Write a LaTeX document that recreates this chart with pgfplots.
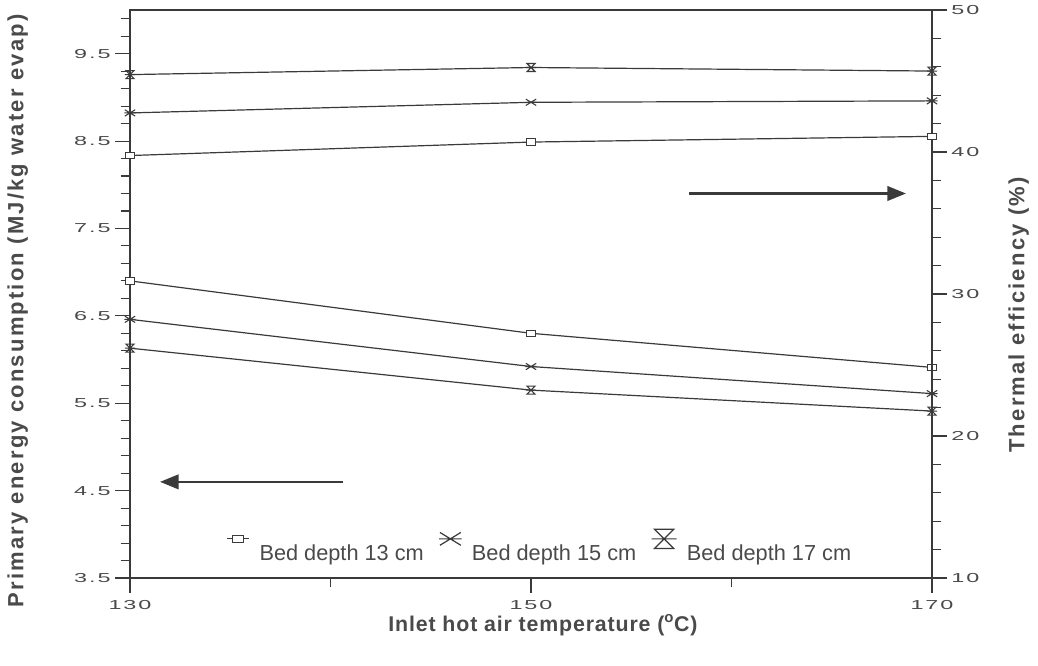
\documentclass[border=0pt]{standalone}
\usepackage{fontspec}
\setmainfont{Liberation Sans}
\usepackage{pgfplots}
\pgfplotsset{compat=1.18}
\usetikzlibrary{arrows.meta}
\newfontfamily\tickfont[FakeStretch=1.8,LetterSpace=15]{Liberation Sans}
\newfontfamily\labfont[LetterSpace=10]{Liberation Sans}
\newfontfamily\xlabfont[LetterSpace=4]{Liberation Sans}
\definecolor{ink}{HTML}{3A3A3A}
\definecolor{txt}{HTML}{4A4A4A}

\pgfdeclareplotmark{sqr}{%
 \pgfpathrectangle{\pgfqpoint{-1.2\pgfplotmarksize}{-0.8\pgfplotmarksize}}{\pgfqpoint{2.4\pgfplotmarksize}{1.6\pgfplotmarksize}}%
 \pgfusepathqfillstroke}
\pgfdeclareplotmark{xline}{%
 \pgfpathmoveto{\pgfqpoint{-1.3\pgfplotmarksize}{-0.8\pgfplotmarksize}}\pgfpathlineto{\pgfqpoint{1.3\pgfplotmarksize}{0.8\pgfplotmarksize}}%
 \pgfpathmoveto{\pgfqpoint{-1.3\pgfplotmarksize}{0.8\pgfplotmarksize}}\pgfpathlineto{\pgfqpoint{1.3\pgfplotmarksize}{-0.8\pgfplotmarksize}}%
 \pgfpathmoveto{\pgfqpoint{-1.4\pgfplotmarksize}{0pt}}\pgfpathlineto{\pgfqpoint{1.4\pgfplotmarksize}{0pt}}%
 \pgfusepathqstroke}
\pgfdeclareplotmark{hglass}{%
 \pgfpathmoveto{\pgfqpoint{-\pgfplotmarksize}{\pgfplotmarksize}}\pgfpathlineto{\pgfqpoint{\pgfplotmarksize}{\pgfplotmarksize}}%
 \pgfpathlineto{\pgfqpoint{-\pgfplotmarksize}{-\pgfplotmarksize}}\pgfpathlineto{\pgfqpoint{\pgfplotmarksize}{-\pgfplotmarksize}}\pgfpathclose
 \pgfpathmoveto{\pgfqpoint{-1.3\pgfplotmarksize}{0pt}}\pgfpathlineto{\pgfqpoint{1.3\pgfplotmarksize}{0pt}}%
 \pgfusepathqstroke}

\pgfplotstableread{
x    e13  e15  e17
130  6.90 6.46 6.13
150  6.30 5.92 5.65
170  5.91 5.61 5.41
}\energy
\pgfplotstableread{
x    t13   t15   t17
130  39.75 42.75 45.45
150  40.70 43.50 45.95
170  41.10 43.60 45.70
}\thermal

\pgfplotsset{
  common/.style={
    width=601.5pt, height=426pt, scale only axis,
    xmin=130, xmax=170,
    axis line style={ink, line width=1.1pt},
    tick style={ink, line width=0.8pt},
    tick align=outside,
    major tick length=11pt, minor tick length=7pt,
    ticklabel style={font=\tickfont\fontsize{9.75}{11}\selectfont, text=txt},
    label style={font=\labfont\bfseries\fontsize{16.5}{18}\selectfont, text=txt},
    every axis plot/.append style={ink, line width=0.9pt, mark size=3pt, mark options={solid, fill=white, line width=0.8pt}},
  },
  legsq/.style={legend image code/.code={%
    \draw[ink, line width=0.8pt] (0pt,11pt) -- (16pt,11pt);
    \draw[##1, mark options={scale=1.15, fill=white}] plot coordinates {(8pt,11pt)};}},
  legx/.style={legend image code/.code={%
    \draw[##1, mark options={scale=2}] plot coordinates {(8pt,11pt)};}},
  leghg/.style={legend image code/.code={%
    \draw[##1, mark options={scale=2.4}] plot coordinates {(8pt,11pt)};}},
}

\begin{document}
\begin{tikzpicture}
\begin{axis}[common, name=ax,
  ymin=3.5, ymax=10,
  xtick={130,150,170}, xticklabels={130,150,170},
  minor xtick={140,160},
  ytick={3.5,4.5,5.5,6.5,7.5,8.5,9.5},
  yticklabels={3.5,4.5,5.5,6.5,7.5,8.5,9.5},
  minor ytick={3.7,3.9,4.1,4.3,4.7,4.9,5.1,5.3,5.7,5.9,6.1,6.3,6.7,6.9,7.1,7.3,7.7,7.9,8.1,8.3,8.7,8.9,9.1,9.3,9.7,9.9},
  xtick pos=left, ytick pos=left,
  xticklabel style={yshift=-2pt},
  xlabel={Inlet hot air temperature (\textsuperscript{o}C)},
  xlabel style={font=\xlabfont\bfseries\fontsize{16}{18}\selectfont, at={(axis description cs:0.515,-0.083)}, anchor=center},
  ylabel={Primary energy consumption (MJ/kg water evap)},
  ylabel style={at={(axis description cs:-0.14,0.47)}, anchor=center},
  clip=false,
  legend columns=3,
  legend style={at={(0.51,0.027)}, anchor=south, draw=none, fill=none,
    font=\fontsize{16.3}{18}\selectfont, text=txt,
    nodes={inner sep=0pt},
    /tikz/every odd column/.append style={column sep=7.75pt},
    /tikz/every even column/.append style={column sep=11.5pt},
    inner sep=0pt},
]
\addplot[mark=sqr, legsq] table[x=x, y=e13] {\energy};
\addlegendentry{Bed depth 13 cm}
\addplot[mark=xline, legx] table[x=x, y=e15] {\energy};
\addlegendentry{Bed depth 15 cm}
\addplot[mark=hglass, leghg] table[x=x, y=e17] {\energy};
\addlegendentry{Bed depth 17 cm}
\draw[ink, line width=1.6pt, -{Triangle[length=14pt, width=11pt]}] (axis cs:140.6,4.6) -- (axis cs:131.5,4.6);
\draw[ink, line width=1.6pt, -{Triangle[length=14pt, width=11pt]}] (axis cs:157.9,7.9) -- (axis cs:168.7,7.9);
\end{axis}
\begin{axis}[common,
  ymin=10, ymax=50,
  axis x line=none,
  axis y line*=right,
  ytick={10,20,30,40,50},
  yticklabels={10,20,30,40,50},
  minor ytick={12,14,16,18,22,24,26,28,32,34,36,38,42,44,46,48},
  ytick pos=right,
  ylabel={Thermal efficiency (\%)},
  ylabel style={at={(axis description cs:1.108,0.463)}, anchor=center},
]
\addplot[mark=sqr] table[x=x, y=t13] {\thermal};
\addplot[mark=xline] table[x=x, y=t15] {\thermal};
\addplot[mark=hglass] table[x=x, y=t17] {\thermal};
\end{axis}
\pgfresetboundingbox
\path ([shift={(-97.5pt,-66pt)}]ax.south west) rectangle ([shift={(681pt,433.5pt)}]ax.south west);
\end{tikzpicture}
\end{document}
